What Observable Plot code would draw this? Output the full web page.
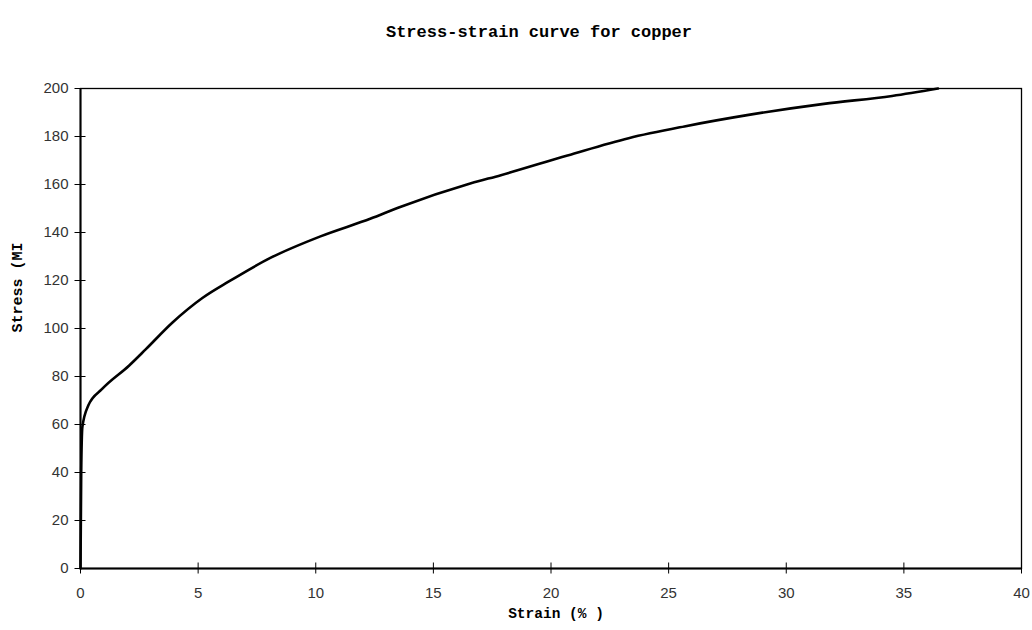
<!DOCTYPE html>
<html>
<head>
<meta charset="utf-8">
<script src="https://cdn.jsdelivr.net/npm/d3@7"></script>
<script src="https://cdn.jsdelivr.net/npm/@observablehq/plot@0.6"></script>
<style>
  html, body { margin: 0; padding: 0; background: #fff; }
  #chart { width: 1032px; height: 630px; }
</style>
</head>
<body>
<div id="chart"></div>
<script>
// Strain (%) and Stress values
const strain = [0, 0.03, 0.08, 0.33, 0.92, 2.06, 2.77, 3.9, 5.18, 6.31, 8.09, 10.2, 12.34, 13.5, 16.6, 17.87, 20.7, 23.3, 25.67, 28.4, 31.6, 34.5, 36.45];
const stress = [0, 40, 59, 67.9, 74.8, 84.5, 91.3, 102.4, 112.7, 119.6, 129.5, 138.4, 145.8, 150.3, 160.5, 163.9, 172.1, 179.3, 184.2, 189, 193.6, 196.9, 200];

const xTicks = [0, 5, 10, 15, 20, 25, 30, 35, 40];
const yTicks = [0, 20, 40, 60, 80, 100, 120, 140, 160, 180, 200];

const titleText = "Stress-strain curve for copper";
const xLabelText = "Strain (% )";
const yLabelText = "Stress (MI";

const data = strain.map((s, i) => ({strain: s, stress: stress[i]}));

const mono = "'Liberation Mono', 'DejaVu Sans Mono', monospace";
const sans = "'Liberation Sans', Arial, sans-serif";

const chart = Plot.plot({
  width: 1032,
  height: 630,
  marginLeft: 80,
  marginRight: 11,
  marginTop: 88,
  marginBottom: 62,
  style: {fontFamily: sans, fontSize: "15px", color: "#000", background: "#fff"},
  x: {domain: [0, 40]},
  y: {domain: [0, 200]},
  marks: [
    Plot.frame({stroke: "#000", strokeWidth: 1.3}),
    Plot.ruleX([0], {stroke: "#000", strokeWidth: 2}),
    Plot.ruleY([0], {stroke: "#000", strokeWidth: 2}),
    // crossing tick marks
    Plot.axisY({ticks: yTicks, tickSize: 11, dx: 5.5, text: null, label: null, stroke: "#000", strokeWidth: 1}),
    Plot.axisX({ticks: xTicks, tickSize: 11, dy: -5.5, text: null, label: null, stroke: "#000", strokeWidth: 1}),
    // tick labels
    Plot.axisY({ticks: yTicks, tickSize: 0, tickPadding: 12, label: null, fill: "#333", fontSize: 15}),
    Plot.axisX({ticks: xTicks, tickSize: 0, tickPadding: 19, label: null, fill: "#333", fontSize: 15}),
    // curve
    Plot.line(data, {x: "strain", y: "stress", curve: "monotone-x", stroke: "#000", strokeWidth: 2.6, strokeLinejoin: "round"}),
    // title and axis labels
    Plot.text([titleText], {frameAnchor: "top", dy: -64, dx: -12, fontFamily: mono, fontWeight: "bold", fontSize: 17, fill: "#000"}),
    Plot.text([xLabelText], {frameAnchor: "bottom", dy: 49, dx: 5, fontFamily: mono, fontWeight: "bold", fontSize: 14.5, fill: "#000"}),
    Plot.text([yLabelText], {frameAnchor: "left", rotate: -90, dx: -63, dy: 4, fontFamily: mono, fontWeight: "bold", fontSize: 15, fill: "#000"})
  ]
});

document.getElementById("chart").appendChild(chart);
</script>
</body>
</html>
